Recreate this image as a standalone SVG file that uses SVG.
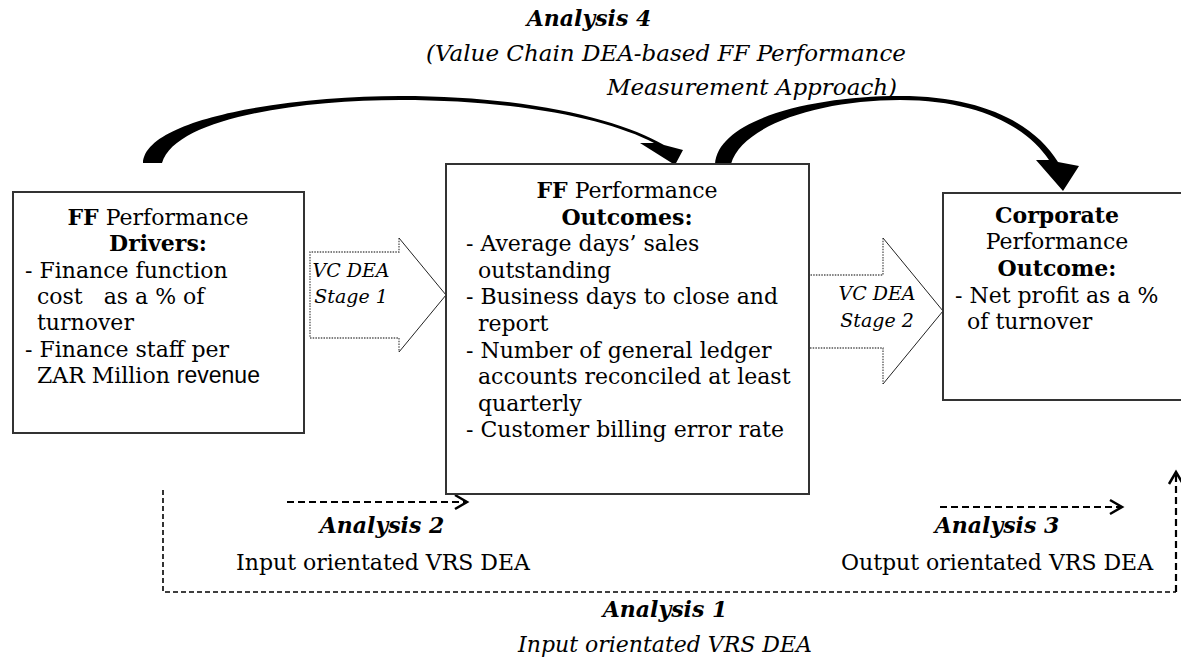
<svg xmlns="http://www.w3.org/2000/svg" width="1181" height="659" viewBox="0 0 1181 659">
<style>
text{font-family:"DejaVu Serif","Liberation Serif",serif;font-size:22px;fill:#000}
.b{font-weight:bold}
.i{font-style:italic}
.bi{font-weight:bold;font-style:italic}
.c{text-anchor:middle}
.box{fill:#fff;stroke:#333;stroke-width:2}
.dot{fill:none;stroke:#555;stroke-width:1.3;stroke-dasharray:1.5,1.2}
.thin{fill:none;stroke:#222;stroke-width:1}
.d1{fill:none;stroke:#000;stroke-width:1.6;stroke-dasharray:5,3}
.d2{fill:none;stroke:#000;stroke-width:2.2;stroke-dasharray:7,4}
.ah{fill:none;stroke:#000;stroke-width:2.5}
.sans{font-family:"Liberation Sans",Arial,sans-serif;font-size:23px}
</style>
<rect width="1181" height="659" fill="#fff"/>

<g id="title">
<text class="bi c" x="589" y="26">Analysis 4</text>
<text class="i c" x="666" y="61" style="font-size:23px">(Value Chain DEA-based FF Performance</text>
<text class="i c" x="752" y="95" style="font-size:23px">Measurement Approach)</text>
</g>

<g id="connectors">
<path d="M143,163 C145,118 290,96 400,96 C530,96 620,120 664,145 L683,150 L675,165 L640,143 L654,143 C610,120 520,100 400,100 C300,100 175,118 162,163 Z" fill="#000"/>
<path d="M715,164 C718,120 810,96 900,96 C985,96 1035,125 1058,162 L1079,166 L1063,191 L1036,160 L1049,160 C1028,128 980,100 900,100 C820,100 742,125 731,164 Z" fill="#000"/>

<g id="stage1">
<polygon points="310,252 399,252 399,238 446,295 399,352 399,338 310,338" fill="#fff"/>
<path class="dot" d="M399,238 L399,252 L310,252 L310,338 L399,338 L399,352"/>
<path class="thin" d="M399,238 L446,295 L399,352"/>
<text class="i c" x="351" y="277" style="font-size:19px">VC DEA</text>
<text class="i c" x="351" y="303" style="font-size:19px">Stage 1</text>
</g>
<g id="stage2">
<polygon points="810,275 883,275 883,238 943,311 883,384 883,348 810,348" fill="#fff"/>
<path class="dot" d="M883,238 L883,275 L810,275 M810,348 L883,348 L883,384"/>
<path class="thin" d="M883,238 L943,311 L883,384"/>
<text class="i c" x="877" y="300" style="font-size:19px">VC DEA</text>
<text class="i c" x="877" y="327" style="font-size:19px">Stage 2</text>
</g>

<path class="d2" d="M287,502 L465,502"/>
<path class="ah" d="M455,495 L467,502 L455,509"/>
<path class="d2" d="M940,507 L1120,507"/>
<path class="ah" d="M1110,500 L1122,507 L1110,514"/>
<path class="d1" d="M163,490 L163,592 L1176,592"/>
<path class="d2" d="M1176,592 L1176,474"/>
<path class="ah" d="M1169,484 L1176,472 L1183,484"/>
</g>

<g id="drivers">
<rect class="box" x="13" y="192" width="291" height="241"/>
<text x="158" y="225" class="c"><tspan class="b">FF</tspan> Performance</text>
<text x="158" y="251" class="b c">Drivers:</text>
<text x="25" y="278">- Finance function</text>
<text x="37" y="304" xml:space="preserve">cost   as a % of</text>
<text x="37" y="330">turnover</text>
<text x="25" y="357">- Finance staff per</text>
<text x="37" y="383">ZAR Million <tspan class="sans">revenue</tspan></text>
</g>

<g id="ffoutcomes">
<rect class="box" x="446" y="164" width="363" height="330"/>
<text x="627" y="198" class="c"><tspan class="b">FF</tspan> Performance</text>
<text x="627" y="224.6" class="b c">Outcomes:</text>
<text x="466" y="251.2">- Average days’ sales</text>
<text x="478" y="277.8">outstanding</text>
<text x="466" y="304.4">- Business days to close and</text>
<text x="478" y="331">report</text>
<text x="466" y="357.6">- Number of general ledger</text>
<text x="478" y="384.2">accounts reconciled at least</text>
<text x="478" y="410.8">quarterly</text>
<text x="466" y="437.4">- Customer billing error rate</text>
</g>

<g id="corporate">
<rect class="box" x="943" y="193" width="245" height="207"/>
<text x="1057" y="223" class="b c">Corporate</text>
<text x="1057" y="249" class="c">Performance</text>
<text x="1057" y="276" class="b c">Outcome:</text>
<text x="955" y="303">- Net profit as a %</text>
<text x="967" y="329">of turnover</text>
</g>

<g id="labels">
<text class="bi c" x="382" y="533">Analysis 2</text>
<text class="c" x="383" y="570">Input orientated VRS DEA</text>
<text class="bi c" x="997" y="533">Analysis 3</text>
<text class="c" x="997" y="570">Output orientated VRS DEA</text>
<text class="bi c" x="665" y="617">Analysis 1</text>
<text class="i c" x="665" y="652">Input orientated VRS DEA</text>
</g>
</svg>
